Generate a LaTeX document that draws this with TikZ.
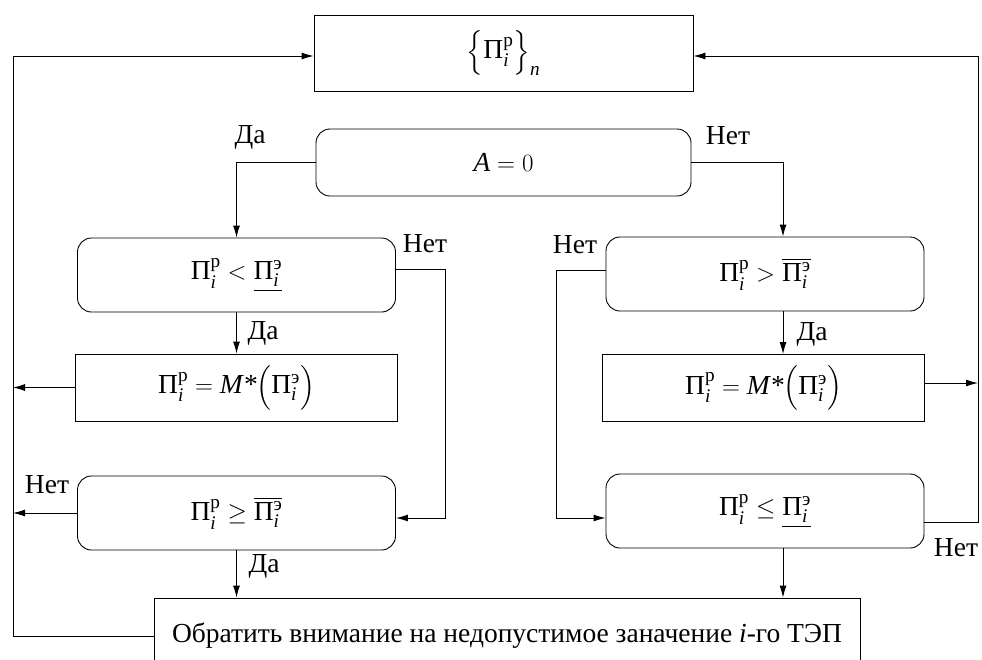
\documentclass[tikz,border=0pt]{standalone}
\usepackage{amsmath}
\usepackage{fontspec}
\setmainfont{Liberation Serif}
\usetikzlibrary{positioning,arrows.meta}

\newcommand{\PiR}{\text{Π}_{\textit{i}}^{\text{р}}}
\newcommand{\PiE}{\text{Π}_{\textit{i}}^{\text{э}}}

\begin{document}
\begin{tikzpicture}[x=1pt, y=-1pt, >={Latex[length=12pt,width=7pt]}, line width=0.9pt,
	font=\fontsize{27.5}{32}\selectfont]
	\tikzstyle{test} = [draw, rounded corners=14pt, minimum width=318pt, minimum height=74pt, inner sep=0pt];
	\tikzstyle{act} = [draw, minimum width=322pt, minimum height=67pt, inner sep=0pt];
	\tikzstyle{lbl} = [inner sep=1pt];
	\useasboundingbox (0,0) rectangle (982,659);

	\node [act, minimum width=379pt, minimum height=76pt] (set) at (503.5,53)  {$\Bigl\{\PiR\Bigr\}_{\textit{n}}$};
	\node [test, minimum width=375pt, minimum height=67pt] (A) at (503.5,162.5) {$\textit{A} = 0$};

	\node [test] (l_1) at (236.5,275)   {$\PiR < \underline{\PiE}$};
	\node [act]  (l_2) at (236.5,387.5) {$\PiR = \textit{M*}\Bigl(\PiE\Bigr)$};
	\node [test] (l_3) at (236.5,513)   {$\PiR \geq \overline{\PiE}$};

	\node [test] (r_1) at (765,274)   {$\PiR > \overline{\PiE}$};
	\node [act]  (r_2) at (763.5,388) {$\PiR = \textit{M*}\Bigl(\PiE\Bigr)$};
	\node [test] (r_3) at (765,511)   {$\PiR \leq \underline{\PiE}$};

	\node [act, minimum width=706pt, minimum height=76pt] (warn) at (507,636)
		{Обратить внимание на недопустимое заначение \textit{i}-го ТЭП};

	\coordinate (w) at (13,56);
	\coordinate (e) at (978,56);

	% labels
	\node [lbl] (yes_A) at (250,137) {Да};
	\node [lbl] (no_A)  at (728,136) {Нет};
	\node [lbl] (no_l1) at (425,244) {Нет};
	\node [lbl] (yes_l1) at (263,333) {Да};
	\node [lbl] (no_r1) at (575,245) {Нет};
	\node [lbl] (yes_r1) at (812,334) {Да};
	\node [lbl] (no_l3) at (47,485) {Нет};
	\node [lbl] (yes_l3) at (264,566) {Да};
	\node [lbl] (no_r3) at (956,548) {Нет};

	% left branch
	\draw [->] (A.west) -| (l_1.north);
	\draw [->] (l_1.south) -- (l_2.north);
	\draw [->] ([yshift=6pt]l_1.east) -- ++(49,0) |- ([yshift=-5pt]l_3.east);
	\draw [->] (l_2.west) -- (l_2.west -| w);
	\draw [->] (l_3.west) -- (l_3.west -| w);
	\draw [->] (l_3.south) -- (l_3.south |- warn.north);
	\draw [->] (warn.west) -| (w) -- (w -| set.west);

	% right branch
	\draw [->] (A.east) -| ([xshift=18pt]r_1.north);
	\draw [->] ([xshift=18pt]r_1.south) -- ([xshift=18pt]r_1.south |- r_2.north);
	\draw [->] ([yshift=4pt]r_1.west) -- ++(-49,0) |- ([yshift=-7pt]r_3.west);
	\draw [->] ([yshift=5pt]r_2.east) -- ([yshift=5pt]r_2.east -| e);
	\draw [->] ([yshift=-11pt]r_3.east) -| (e) -- (e -| set.east);
	\draw [->] ([xshift=18pt]r_3.south) -- ([xshift=18pt]r_3.south |- warn.north);
\end{tikzpicture}
\end{document}
